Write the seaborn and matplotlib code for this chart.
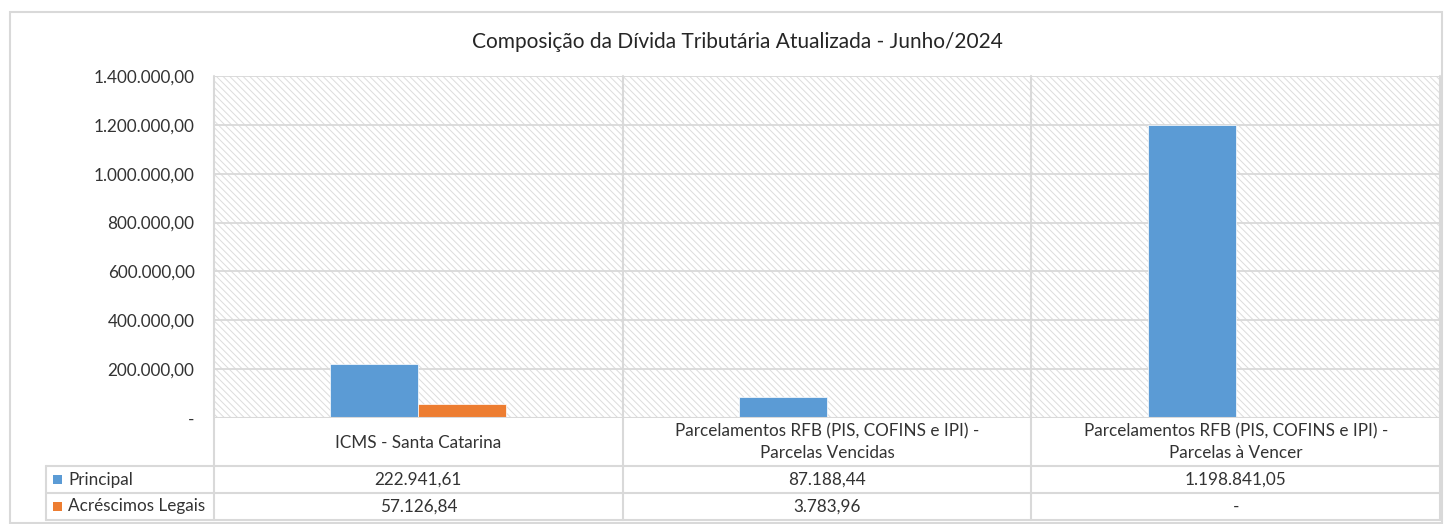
import numpy as np
import pandas as pd
import matplotlib

matplotlib.use('Agg')
import matplotlib.pyplot as plt
import matplotlib.transforms as mtransforms
from matplotlib.patches import Rectangle
from matplotlib.lines import Line2D
import seaborn as sns

title = 'Composição da Dívida Tributária Atualizada - Junho/2024'
categories = [
    'ICMS - Santa Catarina',
    'Parcelamentos RFB (PIS, COFINS e IPI) -\nParcelas Vencidas',
    'Parcelamentos RFB (PIS, COFINS e IPI) -\nParcelas à Vencer',
]
series = ['Principal', 'Acréscimos Legais']
principal = [222941.61, 87188.44, 1198841.05]
acrescimos = [57126.84, 3783.96, 0.0]
colors = ['#5B9BD5', '#ED7D31']
yticks = [0, 200000, 400000, 600000, 800000, 1000000, 1200000, 1400000]

GRID = '#D9D9D9'
TEXT = '#333333'
FS = 12.3
W, H = 1444, 524


def br(v):
    if v == 0:
        return '-'
    s = f'{v:,.2f}'
    return s.replace(',', 'X').replace('.', ',').replace('X', '.')


def fy(y):
    return 1 - y / H


df = pd.DataFrame({
    'cat': categories * 2,
    'serie': [series[0]] * 3 + [series[1]] * 3,
    'valor': principal + acrescimos,
})

sns.set_theme(style='white')
plt.rcParams['font.family'] = ['Lato', 'DejaVu Sans']
plt.rcParams['hatch.linewidth'] = 0.7

fig = plt.figure(figsize=(W / 100, H / 100), dpi=100)
ax = fig.add_axes([214 / W, fy(418), (1440 - 214) / W, (418 - 76) / H])

# hatched background of the plot area
ax.add_patch(Rectangle((0, 0), 1, 1, transform=ax.transAxes, facecolor='white',
                       edgecolor='#DCDCDC', hatch='\\\\\\\\\\', lw=0, zorder=0))

sns.barplot(data=df, x='cat', y='valor', hue='serie', palette=colors, width=0.43,
            gap=0, saturation=1, edgecolor='white', linewidth=0.5, legend=False,
            ax=ax, zorder=3)

ax.set_xlim(-0.5, 2.5)
ax.set_ylim(0, 1400000)
ax.set_yticks(yticks)
ax.set_yticklabels([br(v) for v in yticks], fontsize=FS, color=TEXT)
ax.tick_params(axis='y', length=0, pad=14)
ax.set_xticks([])
ax.set_xlabel('')
ax.set_ylabel('')
for v in yticks[1:]:
    ax.axhline(v, color=GRID, lw=1.3, zorder=1)
for s in ax.spines.values():
    s.set_visible(False)
ax.axhline(0, color=GRID, lw=1.5, zorder=4)

# data table below the plot
tr = mtransforms.blended_transform_factory(ax.transData, fig.transFigure)
bounds = [-0.5, 0.5, 1.5, 2.5]
for x in bounds:
    fig.add_artist(Line2D([x, x], [fy(76), fy(520)], transform=tr, color=GRID, lw=1.5))
fig.add_artist(Line2D([46 / W, 46 / W], [fy(466), fy(520)], transform=fig.transFigure,
                      color=GRID, lw=1.5))
for y in [466, 493, 520]:
    fig.add_artist(Line2D([46 / W, 1440 / W], [fy(y), fy(y)], transform=fig.transFigure,
                          color=GRID, lw=1.5))

for i, c in enumerate(categories):
    fig.text(i, fy(442.5), c, transform=tr, ha='center', va='center', fontsize=FS,
             color=TEXT, linespacing=1.45)
    fig.text(i, fy(479.5), br(principal[i]), transform=tr, ha='center', va='center',
             fontsize=FS, color=TEXT)
    fig.text(i, fy(506.5), br(acrescimos[i]), transform=tr, ha='center', va='center',
             fontsize=FS, color=TEXT)

for j, (name, col) in enumerate(zip(series, colors)):
    yc = 479.5 + 27 * j
    fig.add_artist(Rectangle((53 / W, fy(yc + 4.5)), 9 / W, 9 / H, transform=fig.transFigure,
                             facecolor=col, edgecolor='none'))
    fig.text(68 / W, fy(yc), name, ha='left', va='center', fontsize=FS, color=TEXT)

fig.text(737 / W, fy(42), title, ha='center', va='center', fontsize=15, color='#262626')

# chart area border
fig.add_artist(Rectangle((10 / W, fy(523)), (1442 - 10) / W, (523 - 12) / H,
                         transform=fig.transFigure, facecolor='none', edgecolor=GRID, lw=1.5))

fig.savefig('out.png', dpi=100)
